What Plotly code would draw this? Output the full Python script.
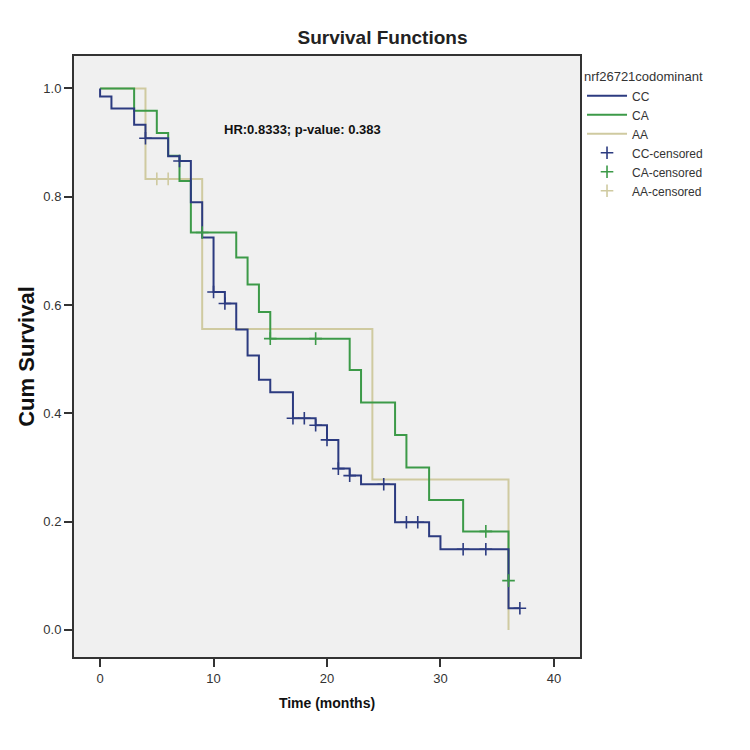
import plotly.graph_objects as go

# ---- data ----
cc_times = [0, 0, 1, 3, 4, 6, 7, 8, 9, 10, 11, 12, 13, 14, 15, 17, 19, 20, 21, 22, 23, 26, 29, 30, 36]
cc_surv = [1.0, 0.985, 0.963, 0.933, 0.908, 0.875, 0.866, 0.790, 0.725, 0.624, 0.603, 0.555, 0.507,
           0.462, 0.439, 0.391, 0.378, 0.351, 0.298, 0.285, 0.269, 0.199, 0.173, 0.149, 0.040]
cc_end = 37
cc_censor = [4, 7, 10, 11, 17, 18, 19, 20, 21, 22, 25, 27, 28, 32, 34, 37]

ca_times = [0, 3, 5, 6, 7, 8, 12, 13, 14, 15, 22, 23, 26, 27, 29, 32, 36]
ca_surv = [1.0, 0.959, 0.918, 0.876, 0.829, 0.734, 0.688, 0.638, 0.587, 0.538, 0.480, 0.420,
           0.360, 0.300, 0.240, 0.182, 0.091]
ca_end = 36
ca_censor = [9, 15, 19, 34, 36]

aa_times = [0, 4, 9, 24, 36]
aa_surv = [1.0, 0.833, 0.556, 0.278, 0.0]
aa_end = 36
aa_censor = [5, 6]

groups = ["CC", "CA", "AA"]
colors = {"CC": "#2c3b80", "CA": "#3c9a48", "AA": "#cfcaa0"}

series = {
    "CC": (cc_times, cc_surv, cc_end, cc_censor),
    "CA": (ca_times, ca_surv, ca_end, ca_censor),
    "AA": (aa_times, aa_surv, aa_end, aa_censor),
}


def surv_at(times, surv, t):
    val = surv[0]
    for ti, si in zip(times, surv):
        if ti <= t:
            val = si
    return val


FONT = "Arial, Liberation Sans, sans-serif"
fig = go.Figure()

draw_order = ["AA", "CA", "CC"]
rank = {"CC": 1, "CA": 2, "AA": 3}
for g in draw_order:
    t, s, end, cens = series[g]
    xs = list(t) + [end]
    ys = list(s) + [s[-1]]
    fig.add_trace(go.Scatter(
        x=xs, y=ys, mode="lines", line=dict(shape="hv", color=colors[g], width=2),
        name=g, legendrank=rank[g]))
for g in draw_order:
    t, s, end, cens = series[g]
    cy = [surv_at(t, s, c) for c in cens]
    fig.add_trace(go.Scatter(
        x=cens, y=cy, mode="markers",
        marker=dict(symbol="cross-thin", size=9, line=dict(color=colors[g], width=1.6), color=colors[g]),
        name=g + "-censored", legendrank=rank[g] + 3))

fig.add_annotation(x=17.8, y=0.924, xref="x", yref="y", text="<b>HR:0.8333; p-value: 0.383</b>",
                   showarrow=False, font=dict(family=FONT, size=13, color="#111"))

fig.update_layout(
    width=750, height=750,
    margin=dict(l=74, r=170, t=56, b=93),
    paper_bgcolor="white", plot_bgcolor="#f0f0f0",
    font=dict(family=FONT, color="#333"),
    title=dict(text="<b>Survival Functions</b>", x=0.51, xanchor="center", y=0.95, yanchor="middle",
               font=dict(family=FONT, size=19, color="#222")),
    showlegend=True,
    legend=dict(x=1.004, xanchor="left", y=0.986, yanchor="top", bgcolor="rgba(0,0,0,0)",
                title=dict(text="nrf26721codominant", font=dict(family=FONT, size=13, color="#333")),
                font=dict(family=FONT, size=12, color="#333"), tracegroupgap=0, itemwidth=40),
    xaxis=dict(range=[-2.3, 42.3], tickvals=[0, 10, 20, 30, 40], ticks="outside", ticklen=8,
               tickwidth=2, tickcolor="#333", showgrid=False, zeroline=False,
               showline=True, mirror=True, linecolor="#333", linewidth=2,
               tickfont=dict(family=FONT, size=13, color="#333"),
               title=dict(text="<b>Time (months)</b>", font=dict(family=FONT, size=14, color="#111"),
                          standoff=14)),
    yaxis=dict(range=[-0.05, 1.06], tickvals=[0, 0.2, 0.4, 0.6, 0.8, 1.0], tickformat=".1f",
               ticks="outside", ticklen=8, tickwidth=2, tickcolor="#333", showgrid=False,
               zeroline=False, showline=True, mirror=True, linecolor="#333", linewidth=2,
               tickfont=dict(family=FONT, size=13, color="#333"),
               title=dict(text="<b>Cum Survival</b>", font=dict(family=FONT, size=22, color="#111"),
                          standoff=3)),
)

fig.write_html("out.html")
